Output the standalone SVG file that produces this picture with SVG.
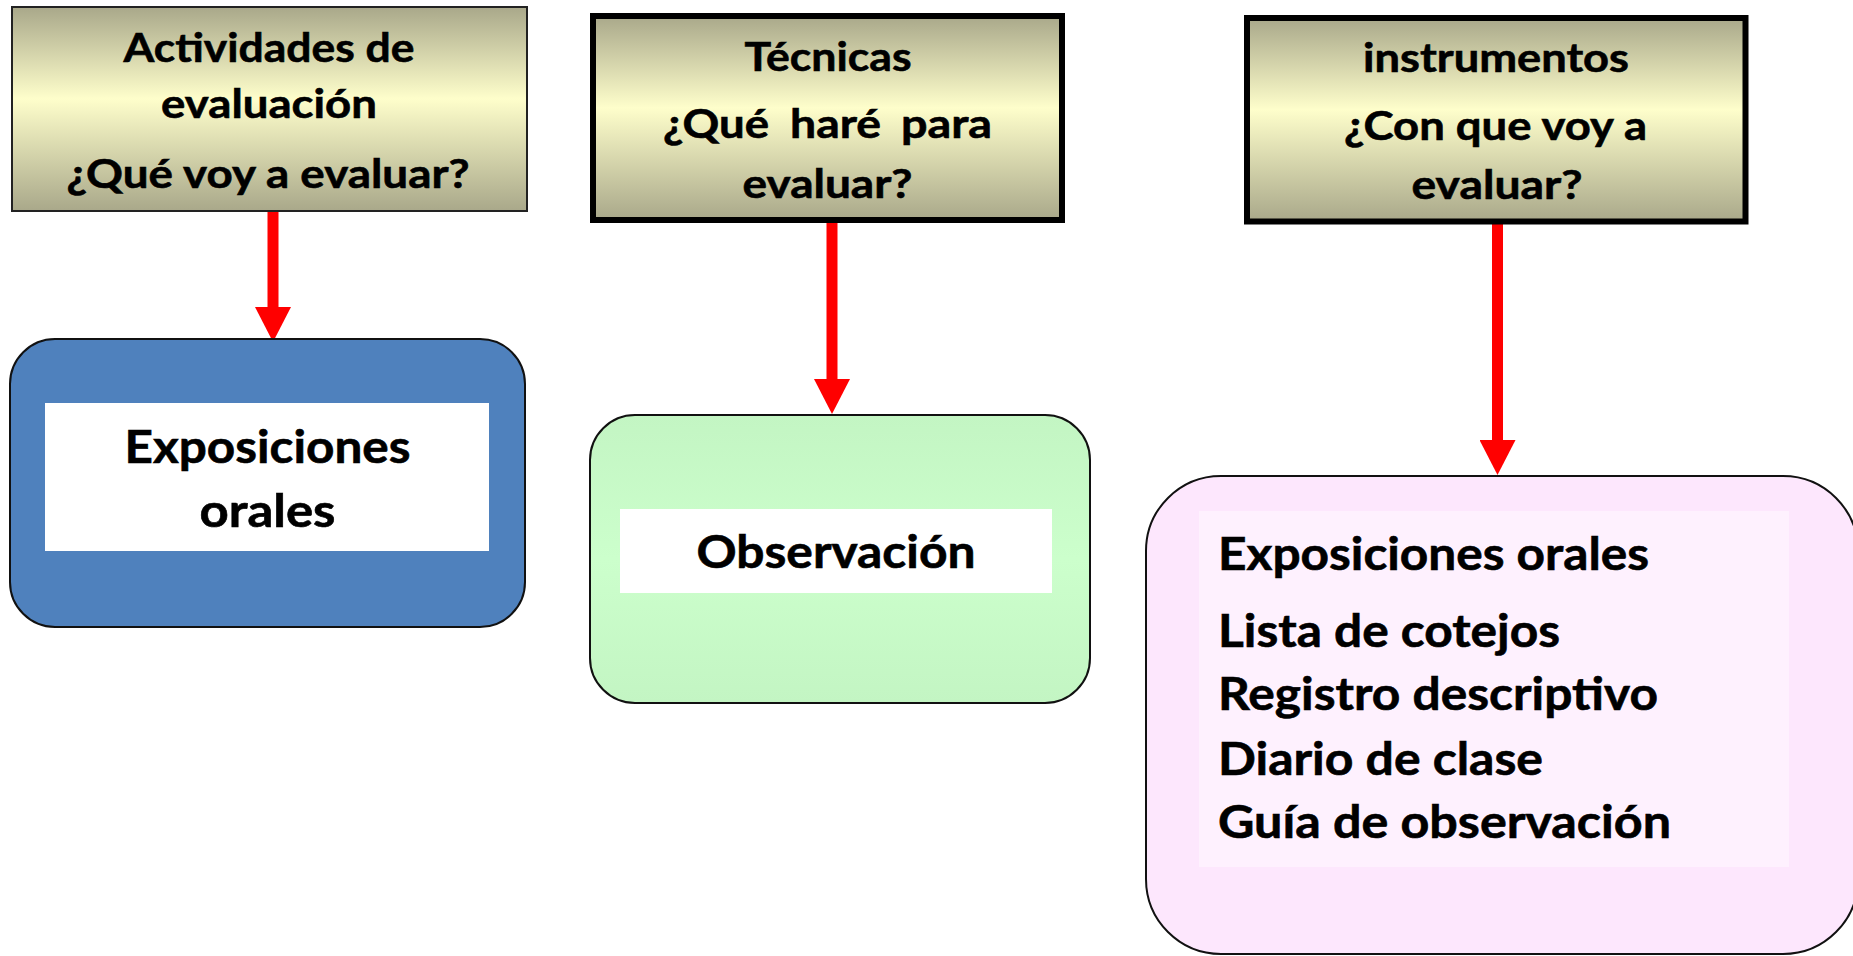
<svg xmlns="http://www.w3.org/2000/svg" width="1853" height="956" viewBox="0 0 1853 956">
<style>
  .hdr-t { font-family: Lato, 'Open Sans', 'Liberation Sans', sans-serif; font-weight: 700; font-size: 40.5px; fill: #000; stroke: #000; stroke-width: 0.6px; }
  .big-t { font-family: Lato, 'Open Sans', 'Liberation Sans', sans-serif; font-weight: 700; font-size: 45.5px; fill: #000; stroke: #000; stroke-width: 0.6px; }
  .conn { stroke: #FF0000; stroke-width: 11; fill: none; marker-end: url(#arrow); }
</style>
<defs>
  <linearGradient id="hdrGrad" x1="0" y1="0" x2="0" y2="1">
    <stop offset="0" stop-color="#A9A88A"/>
    <stop offset="0.45" stop-color="#FEFECB"/>
    <stop offset="1" stop-color="#A9A88A"/>
  </linearGradient>
  <linearGradient id="greenGrad" x1="0" y1="0" x2="0" y2="1">
    <stop offset="0" stop-color="#C3F5C3"/>
    <stop offset="0.5" stop-color="#CCFFCC"/>
    <stop offset="1" stop-color="#C3F5C3"/>
  </linearGradient>
  <marker id="arrow" markerUnits="userSpaceOnUse" markerWidth="36" markerHeight="36" refX="1" refY="18" orient="auto" viewBox="0 0 36 36">
    <path d="M0,0 L35,18 L0,36 Z" fill="#FF0000"/>
  </marker>
</defs>
<rect width="1853" height="956" fill="#FFFFFF"/>

<g id="connectors">
  <line class="conn" x1="273" y1="211" x2="273" y2="308"/>
  <line class="conn" x1="832" y1="223" x2="832" y2="380"/>
  <line class="conn" x1="1497.5" y1="224" x2="1497.5" y2="441"/>
</g>

<g id="node-actividades">
  <rect x="12" y="7" width="515" height="204" fill="url(#hdrGrad)" stroke="#222" stroke-width="2"/>
  <text class="hdr-t" x="269" y="62" text-anchor="middle" textLength="291" lengthAdjust="spacingAndGlyphs">Actividades de</text>
  <text class="hdr-t" x="269" y="118" text-anchor="middle" textLength="216" lengthAdjust="spacingAndGlyphs">evaluación</text>
  <text class="hdr-t" x="268" y="188" text-anchor="middle" textLength="403" lengthAdjust="spacingAndGlyphs">¿Qué voy a evaluar?</text>
</g>

<g id="node-tecnicas">
  <rect x="593" y="16" width="469" height="204" fill="url(#hdrGrad)" stroke="#000" stroke-width="6"/>
  <text class="hdr-t" x="828" y="71" text-anchor="middle" textLength="167" lengthAdjust="spacingAndGlyphs">Técnicas</text>
  <text class="hdr-t" x="663" y="138" textLength="106" lengthAdjust="spacingAndGlyphs">¿Qué</text>
  <text class="hdr-t" x="790" y="138" textLength="91" lengthAdjust="spacingAndGlyphs">haré</text>
  <text class="hdr-t" x="901" y="138" textLength="91" lengthAdjust="spacingAndGlyphs">para</text>
  <text class="hdr-t" x="827.5" y="198" text-anchor="middle" textLength="170" lengthAdjust="spacingAndGlyphs">evaluar?</text>
</g>

<g id="node-instrumentos">
  <rect x="1247" y="18" width="498.5" height="203.5" fill="url(#hdrGrad)" stroke="#000" stroke-width="6"/>
  <text class="hdr-t" x="1496" y="72" text-anchor="middle" textLength="266" lengthAdjust="spacingAndGlyphs">instrumentos</text>
  <text class="hdr-t" x="1495.5" y="140" text-anchor="middle" textLength="303" lengthAdjust="spacingAndGlyphs">¿Con que voy a</text>
  <text class="hdr-t" x="1497" y="199" text-anchor="middle" textLength="171" lengthAdjust="spacingAndGlyphs">evaluar?</text>
</g>

<g id="node-exposiciones">
  <rect x="10" y="339" width="515" height="288" rx="45" ry="45" fill="#4F81BD" stroke="#111" stroke-width="2"/>
  <rect x="45" y="403" width="444" height="148" fill="#FFFFFF"/>
  <text class="big-t" x="267.5" y="463" text-anchor="middle" textLength="286" lengthAdjust="spacingAndGlyphs">Exposiciones</text>
  <text class="big-t" x="267.5" y="527" text-anchor="middle" textLength="136" lengthAdjust="spacingAndGlyphs">orales</text>
</g>

<g id="node-observacion">
  <rect x="590" y="415" width="500" height="288" rx="45" ry="45" fill="url(#greenGrad)" stroke="#111" stroke-width="2"/>
  <rect x="620" y="509" width="432" height="84" fill="#FFFFFF"/>
  <text class="big-t" x="836" y="568" text-anchor="middle" textLength="279" lengthAdjust="spacingAndGlyphs">Observación</text>
</g>

<g id="node-lista">
  <rect x="1146" y="476" width="712" height="478" rx="75" ry="75" fill="#FDE7FD" stroke="#111" stroke-width="2"/>
  <rect x="1199" y="511" width="590" height="356" fill="#FEF1FE"/>
  <text class="big-t" x="1218" y="570" textLength="431" lengthAdjust="spacingAndGlyphs">Exposiciones orales</text>
  <text class="big-t" x="1218" y="647" textLength="342" lengthAdjust="spacingAndGlyphs">Lista de cotejos</text>
  <text class="big-t" x="1218" y="710" textLength="440" lengthAdjust="spacingAndGlyphs">Registro descriptivo</text>
  <text class="big-t" x="1218" y="775" textLength="325" lengthAdjust="spacingAndGlyphs">Diario de clase</text>
  <text class="big-t" x="1218" y="838" textLength="453" lengthAdjust="spacingAndGlyphs">Guía de observación</text>
</g>
</svg>
